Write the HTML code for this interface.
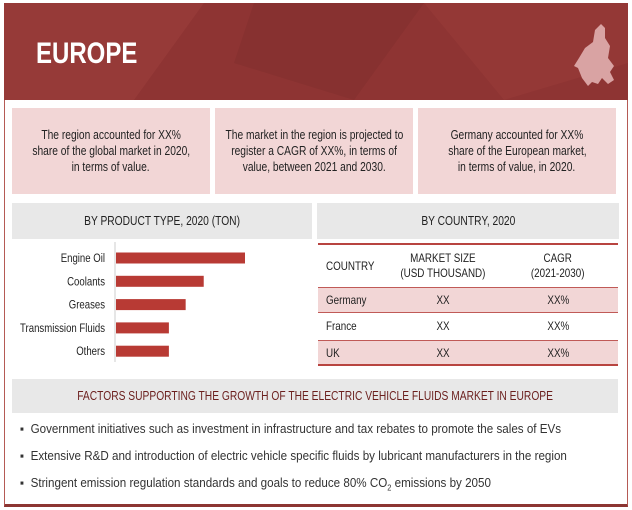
<!DOCTYPE html>
<html><head><meta charset="utf-8"><style>
*{margin:0;padding:0;box-sizing:border-box}
body{width:632px;height:510px;background:#fff;font-family:"Liberation Sans",sans-serif;position:relative;overflow:hidden;color:#222}
.abs{position:absolute}
.n{display:inline-block;transform:scaleX(.82);white-space:nowrap}
.box{background:#f2d6d6;display:flex;align-items:center;justify-content:center;text-align:center;font-size:12.5px;line-height:16px;color:#222}
.band{background:#e8e8e8;display:flex;align-items:center;justify-content:center;font-size:12.5px}
.row{position:absolute;left:318px;width:300px;height:26px;font-size:12px;display:flex;align-items:center}
.c1{width:70px;padding-left:8px}.c2{width:110px;text-align:center}.c3{width:120px;text-align:center}
.c1 .n{transform-origin:left}
.bul{position:absolute;left:20px;font-size:12.5px;color:#333;transform:scaleX(0.93);transform-origin:left;white-space:nowrap}
</style></head><body>
<div class="abs" style="left:4px;top:3px;width:624px;height:504px;border:1px solid #b55a55;border-bottom:3px solid #8c3532"></div>
<div class="abs" style="left:4px;top:3px;width:624px;height:97px;background:#8e3433;overflow:hidden">
<svg width="624" height="97" style="position:absolute;left:0;top:0"><polygon points="0,0 200,0 130,97 0,97" fill="#963a38"/><polygon points="250,0 420,0 350,97 230,60" fill="#873130"/><polygon points="420,0 624,0 624,60 500,97" fill="#943836"/>
<path d="M575,55 l6,-10 l8,-6 l2,-12 l6,-6 l4,4 l0,10 l5,8 l-2,12 l6,8 l-4,6 l4,8 l-6,4 l-6,-6 l-4,6 l-6,-2 l-4,4 l-6,-8 l-4,-10 l-4,-2 z" fill="#d9a3a3"/></svg>
<div class="abs" style="left:32px;top:34px;color:#fff;font-size:30px;font-weight:bold"><span class="n" style="transform-origin:left;transform:scaleX(.8)">EUROPE</span></div></div>
<div class="abs box" style="left:12px;top:108px;width:198px;height:86px"><div><span class="n">The region accounted for XX%</span><br><span class="n">share of the global market in 2020,</span><br><span class="n">in terms of value.</span></div></div>
<div class="abs box" style="left:215px;top:108px;width:198px;height:86px"><div><span class="n">The market in the region is projected to</span><br><span class="n">register a CAGR of XX%, in terms of</span><br><span class="n">value, between 2021 and 2030.</span></div></div>
<div class="abs box" style="left:418px;top:108px;width:198px;height:86px"><div><span class="n">Germany accounted for XX%</span><br><span class="n">share of the European market,</span><br><span class="n">in terms of value, in 2020.</span></div></div>
<div class="abs band" style="left:12px;top:203px;width:300px;height:36px"><span class="n">BY PRODUCT TYPE, 2020 (TON)</span></div>
<div class="abs band" style="left:317px;top:203px;width:302px;height:36px"><span class="n">BY COUNTRY, 2020</span></div>
<svg id="chart" class="abs" style="left:0;top:240px" width="312" height="130"></svg>
<div class="abs" style="left:318px;top:243px;width:300px;height:2px;background:#b84440"></div>
<div class="row" style="top:245px;height:42px;line-height:15px"><div class="c1"><span class="n">COUNTRY</span></div><div class="c2"><span class="n">MARKET SIZE<br>(USD THOUSAND)</span></div><div class="c3"><span class="n">CAGR<br>(2021-2030)</span></div></div>
<div class="row" style="top:287px;background:#f2d6d6;border-top:1px solid #c05a57;border-bottom:1px solid #c05a57"><div class="c1"><span class="n">Germany</span></div><div class="c2"><span class="n">XX</span></div><div class="c3"><span class="n">XX%</span></div></div>
<div class="row" style="top:313px"><div class="c1"><span class="n">France</span></div><div class="c2"><span class="n">XX</span></div><div class="c3"><span class="n">XX%</span></div></div>
<div class="row" style="top:340px;background:#f2d6d6;border-top:1px solid #c05a57;border-bottom:2px solid #b84440"><div class="c1"><span class="n">UK</span></div><div class="c2"><span class="n">XX</span></div><div class="c3"><span class="n">XX%</span></div></div>
<div class="abs band" style="left:12px;top:379px;width:606px;height:34px;color:#6b1f1d"><span class="n">FACTORS SUPPORTING THE GROWTH OF THE ELECTRIC VEHICLE FLUIDS MARKET IN EUROPE</span></div>
<div class="bul" style="top:422px">▪&nbsp; Government initiatives such as investment in infrastructure and tax rebates to promote the sales of EVs</div>
<div class="bul" style="top:449px">▪&nbsp; Extensive R&amp;D and introduction of electric vehicle specific fluids by lubricant manufacturers in the region</div>
<div class="bul" style="top:476px">▪&nbsp; Stringent emission regulation standards and goals to reduce 80% CO<sub style="font-size:8px">2</sub> emissions by 2050</div>
<script>
const categories=["Engine Oil","Coolants","Greases","Transmission Fluids","Others"];
const values=[100,68,54,41,41];
const svg=document.getElementById('chart');
const NS='http://www.w3.org/2000/svg';
const x0=115,xMax=244-115,y0=12,step=23.3,bh=11;
const xs=v=>v/100*xMax;
const ax=document.createElementNS(NS,'line');


ax.setAttribute('x1',x0);ax.setAttribute('x2',x0);ax.setAttribute('y1',2);ax.setAttribute('y2',122);ax.setAttribute('stroke','#ccc');
svg.appendChild(ax);
categories.forEach((c,i)=>{
 const yc=y0+step*i+6;
 const r=document.createElementNS(NS,'rect');
 
 
 r.setAttribute('x',x0+1);r.setAttribute('y',yc-bh/2);r.setAttribute('width',xs(values[i]));r.setAttribute('height',bh);r.setAttribute('fill','#b83a34');
 svg.appendChild(r);
 const t=document.createElementNS(NS,'text');
 
 
 t.setAttribute('transform','translate('+(x0-10)+','+(yc+4)+') scale(0.8,1)');
 t.setAttribute('text-anchor','end');t.setAttribute('font-size','12');
 t.setAttribute('font-family','"Liberation Sans",sans-serif');t.setAttribute('fill','#222');
 t.textContent=c;svg.appendChild(t);
});
</script>
</body></html>
